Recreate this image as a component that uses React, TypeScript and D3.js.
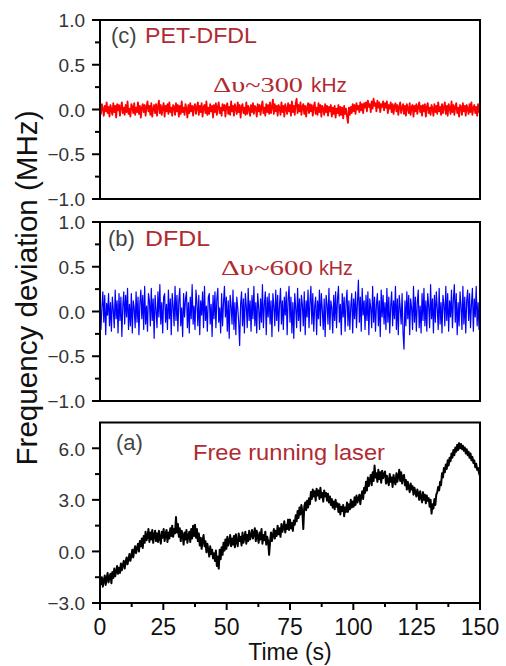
import React from 'react';
import * as d3 from 'd3';

// ---- data (sampled every 0.375 s from 0 to 150 s) ----
const timeStart = 0;
const timeEnd = 150;

const petDfdl = [
  0.02,-0.05,0.06,0.01,-0.07,0.04,-0.02,0.08,-0.04,0.03,-0.08,0.05,0.00,-0.06,0.07,-0.03,0.04,-0.09,0.06,-0.01,
  0.05,-0.07,0.03,0.08,-0.04,0.02,-0.06,0.05,-0.03,0.09,-0.05,0.01,-0.08,0.06,0.03,-0.04,0.07,-0.06,0.02,-0.03,
  0.08,-0.05,0.04,-0.09,0.02,0.06,-0.03,0.05,-0.07,0.03,0.09,-0.02,0.04,-0.06,0.07,-0.08,0.01,0.05,-0.04,0.06,
  -0.07,0.03,0.1,-0.04,0.05,-0.06,0.02,0.07,-0.08,0.04,-0.02,0.06,-0.05,0.08,-0.03,0.02,-0.07,0.05,0.03,-0.06,
  0.07,-0.02,0.05,-0.08,0.04,-0.05,0.09,-0.03,0.02,-0.06,0.06,0.01,-0.09,0.05,-0.04,0.07,-0.02,0.04,-0.07,0.03,
  0.06,-0.05,0.02,0.08,-0.06,0.04,-0.03,0.07,-0.08,0.03,0.05,-0.04,0.09,-0.06,0.02,-0.05,0.06,-0.02,0.04,-0.09,
  0.05,-0.03,0.07,-0.06,0.03,0.08,-0.04,0.02,-0.07,0.06,-0.01,0.05,-0.08,0.04,0.07,-0.05,0.03,-0.06,0.09,-0.02,
  0.04,-0.07,0.06,0.01,-0.05,0.08,-0.03,0.05,-0.09,0.03,0.06,-0.04,0.02,-0.06,0.08,-0.05,0.04,0.01,-0.07,0.05,
  -0.03,0.07,-0.05,0.04,0.02,-0.08,0.06,-0.02,0.05,-0.06,0.03,0.09,-0.04,0.02,-0.07,0.06,-0.03,0.05,-0.05,0.08,
  -0.04,0.03,0.11,-0.05,0.06,-0.02,0.04,-0.07,0.05,0.02,-0.06,0.08,-0.03,0.04,-0.08,0.06,0.01,-0.05,0.07,-0.02,
  0.05,-0.07,0.09,-0.03,0.04,-0.06,0.07,0.12,-0.04,0.05,-0.02,0.08,-0.06,0.03,0.06,-0.05,0.04,-0.08,0.02,0.07,
  -0.04,0.06,-0.02,0.05,-0.07,0.03,0.08,-0.05,0.02,-0.06,0.07,-0.03,0.05,-0.08,0.04,0.01,-0.06,0.06,-0.03,0.04,
  -0.07,0.03,-0.02,0.05,-0.08,0.02,-0.05,0.04,-0.09,0.01,-0.04,0.05,-0.07,0.03,-0.06,0.02,-0.1,0.04,-0.05,0.01,
  -0.08,-0.15,0.02,-0.06,0.03,-0.04,0.06,-0.02,0.05,-0.05,0.07,0.00,0.04,-0.03,0.08,-0.01,0.06,-0.04,0.07,0.02,
  0.08,-0.02,0.1,0.03,0.06,-0.03,0.09,0.01,0.12,0.04,0.07,-0.02,0.1,0.02,0.08,-0.03,0.06,0.03,0.09,-0.01,
  0.07,0.02,0.09,-0.04,0.05,0.01,0.08,-0.03,0.06,-0.05,0.04,0.07,-0.02,0.05,-0.06,0.03,0.08,-0.04,0.02,0.06,
  -0.05,0.04,-0.07,0.06,0.01,-0.04,0.07,-0.06,0.03,0.05,-0.08,0.04,-0.02,0.06,-0.05,0.03,0.08,-0.03,0.04,-0.07,
  0.05,-0.02,0.06,-0.08,0.03,0.07,-0.04,0.02,-0.06,0.05,0.01,-0.07,0.06,-0.03,0.04,-0.05,0.08,-0.02,0.03,-0.06,
  0.06,-0.04,0.03,0.08,-0.05,0.04,-0.07,0.06,0.02,-0.05,0.09,-0.03,0.05,-0.06,0.03,0.07,-0.04,0.02,-0.08,0.05,
  0.03,-0.06,0.07,-0.02,0.04,-0.07,0.05,0.01,-0.05,0.06,-0.03,0.08,-0.06,0.02,0.05,-0.04,0.03,-0.07,0.06,-0.03,
  0.02,
];

const dfdl = [
  0.14,-0.2,0.05,0.22,-0.12,0.18,-0.26,0.09,-0.04,0.2,-0.16,0.1,-0.22,0.16,0.02,-0.18,0.24,-0.08,0.12,-0.24,
  0.2,-0.1,0.16,-0.28,0.06,0.22,-0.14,0.18,-0.06,0.26,-0.2,0.08,-0.16,0.2,-0.24,0.12,0.04,-0.18,0.22,-0.12,
  0.16,-0.26,0.1,0.24,-0.08,0.18,-0.2,0.28,-0.14,0.06,-0.22,0.2,0.12,-0.16,0.26,-0.1,0.14,-0.3,0.18,0.02,
  -0.18,0.22,-0.06,0.3,-0.14,0.1,-0.24,0.16,0.2,-0.12,0.08,-0.2,0.24,-0.08,0.14,-0.26,0.2,0.06,-0.16,0.28,
  -0.1,0.18,-0.22,0.12,0.26,-0.16,0.04,-0.28,0.2,-0.06,0.14,0.22,-0.18,0.1,-0.24,0.16,-0.08,0.3,-0.14,0.06,
  -0.2,0.24,0.1,-0.16,0.18,-0.26,0.12,-0.04,0.22,-0.18,0.28,-0.1,0.06,-0.22,0.16,0.2,-0.14,0.08,-0.28,0.18,
  -0.08,0.22,-0.18,0.14,0.26,-0.12,0.04,-0.24,0.2,-0.16,0.1,0.28,-0.06,0.16,-0.22,0.12,-0.3,0.18,0.06,-0.14,
  0.24,-0.2,0.1,-0.26,0.16,0.04,-0.12,-0.38,0.08,0.22,-0.16,0.14,-0.24,0.2,0.06,-0.18,0.26,-0.1,0.12,-0.22,
  0.18,-0.08,0.28,-0.16,0.1,-0.24,0.2,0.04,-0.2,0.14,-0.12,0.3,-0.18,0.08,0.22,-0.26,0.16,-0.06,0.2,-0.14,
  0.12,-0.28,0.2,0.06,-0.16,0.24,-0.1,0.18,-0.22,0.08,0.26,-0.14,0.12,-0.2,0.16,-0.04,0.22,-0.26,0.14,0.28,
  -0.12,0.16,-0.24,0.1,-0.3,0.2,0.04,-0.18,0.26,-0.1,0.14,-0.22,0.18,0.08,-0.16,0.22,-0.26,0.12,-0.06,0.24,
  -0.18,0.1,0.28,-0.14,0.2,-0.22,0.06,0.16,-0.26,0.12,-0.08,0.24,-0.16,0.2,0.02,-0.2,0.14,-0.28,0.18,0.08,
  -0.14,0.26,-0.2,0.12,0.04,-0.24,0.18,-0.1,0.22,-0.18,0.14,0.28,-0.12,0.08,-0.26,0.2,-0.06,0.16,-0.22,0.1,
  0.24,-0.16,0.12,-0.2,0.06,0.2,-0.24,0.14,-0.08,0.22,-0.18,0.1,0.35,-0.12,0.16,-0.22,0.26,-0.04,0.12,-0.2,
  0.18,-0.1,0.22,-0.26,0.14,0.04,-0.18,0.28,-0.12,0.16,-0.22,0.08,0.2,-0.16,0.12,-0.28,0.24,-0.06,0.18,-0.14,
  0.1,-0.2,0.26,-0.12,0.16,-0.24,0.06,0.22,-0.16,0.12,-0.08,0.28,-0.2,0.14,-0.26,0.18,0.04,-0.14,0.2,-0.24,
  -0.42,0.12,-0.16,0.22,-0.08,0.18,-0.26,0.14,0.04,-0.2,0.28,-0.12,0.16,-0.22,0.1,0.24,-0.18,0.06,-0.24,0.2,
  -0.1,0.26,-0.16,0.12,-0.22,0.2,0.06,-0.18,0.3,-0.08,0.14,-0.24,0.18,-0.12,0.22,0.04,-0.2,0.26,-0.14,0.1,
  -0.24,0.18,0.08,-0.16,0.28,-0.1,0.2,-0.22,0.12,-0.06,0.24,-0.18,0.14,0.3,-0.12,0.2,-0.26,0.1,-0.16,0.22,
  0.06,-0.2,0.28,-0.14,0.16,-0.24,0.12,0.24,-0.1,0.2,-0.18,0.08,0.26,-0.22,0.14,-0.06,0.28,-0.16,0.1,-0.2,
  0.12,
];

const freeRunning = [
  -1.6,-1.9,-1.5,-2.05,-1.7,-1.4,-1.95,-1.6,-1.25,-1.8,-1.5,-1.3,-1.85,-1.2,-1.55,-1.0,-1.45,-1.15,-0.85,-1.3,
  -0.95,-1.25,-0.7,-1.1,-0.8,-0.55,-1.0,-0.6,-0.35,-0.75,-0.45,-0.15,-0.55,-0.25,0.1,-0.35,0.05,0.3,-0.1,0.2,
  0.45,0.0,0.6,0.3,0.75,0.2,0.9,0.5,1.15,0.65,0.85,1.3,0.55,1.1,0.7,1.25,0.5,0.95,1.2,0.6,
  1.05,0.55,1.2,0.75,0.45,1.15,0.8,1.3,0.6,1.0,1.25,0.55,1.1,0.75,1.35,0.9,1.5,0.85,1.3,1.05,
  2.0,1.1,1.6,0.85,1.35,0.6,1.2,0.95,0.4,1.1,0.7,1.25,0.5,0.9,1.15,0.55,1.3,0.75,1.5,0.9,
  1.55,0.8,1.3,0.6,1.05,0.35,0.8,0.15,0.65,0.95,0.3,0.6,-0.05,0.45,0.1,-0.3,0.3,-0.15,0.1,-0.4,
  -0.1,-0.55,0.05,-0.85,-0.3,-1.0,0.1,-0.45,0.25,-0.2,0.5,0.05,0.7,0.15,0.85,0.35,0.6,0.95,0.3,0.75,
  0.4,0.9,0.25,1.0,0.55,0.3,1.05,0.6,0.85,0.35,1.1,0.5,0.8,1.15,0.45,0.95,0.6,1.2,0.7,0.95,
  1.25,0.75,1.05,1.35,0.6,1.2,0.85,0.5,1.1,0.7,1.3,0.45,0.95,0.65,1.15,0.4,0.85,0.6,-0.2,0.55,
  1.1,0.6,0.95,1.3,0.75,1.2,0.9,1.5,1.0,1.35,0.85,1.6,1.15,1.4,1.75,1.1,1.55,1.3,1.85,1.25,
  1.85,1.35,1.65,1.2,1.8,1.55,2.1,1.75,2.35,1.95,2.55,2.15,2.7,2.3,1.3,2.6,2.85,2.4,2.95,2.55,
  3.1,2.75,3.45,3.05,3.6,3.2,3.5,2.95,3.65,3.25,3.55,3.05,3.7,3.15,3.4,2.9,3.55,3.2,3.4,2.95,
  3.35,2.85,3.2,2.7,3.05,2.55,2.9,2.45,3.0,2.6,2.8,2.3,2.75,2.15,2.6,2.35,2.7,2.05,2.55,2.3,
  2.85,2.3,2.75,2.45,3.0,2.55,2.9,2.6,3.15,2.7,3.25,2.85,3.05,3.3,2.75,3.2,3.5,3.05,3.7,3.4,
  4.05,3.55,4.3,3.8,4.15,4.45,3.85,4.6,4.1,5.0,4.3,4.55,4.05,4.75,4.2,4.6,4.0,4.7,4.25,4.5,
  4.65,3.95,4.4,4.1,3.85,4.5,4.05,4.3,3.75,4.45,4.1,3.9,4.55,4.05,4.35,4.75,4.1,4.6,3.95,4.4,
  4.45,3.85,4.15,3.6,4.05,3.75,3.45,3.95,3.6,3.8,3.3,3.7,3.45,3.2,3.6,3.35,3.0,3.5,3.15,2.85,
  3.45,3.0,3.3,2.8,3.25,2.95,3.1,2.6,3.0,2.2,2.75,2.5,3.05,2.7,3.3,3.45,3.75,3.55,4.05,3.85,
  4.55,4.3,4.85,4.6,5.05,4.8,5.3,5.0,5.45,5.25,5.7,5.45,5.9,5.6,6.05,5.8,6.2,5.9,6.3,6.0,
  6.25,5.95,6.15,5.85,6.05,5.7,5.95,5.6,5.8,5.45,5.7,5.3,5.5,5.15,5.3,4.9,5.1,4.75,4.85,4.55,
  4.4,
];

const xTicks = [0, 25, 50, 75, 100, 125, 150];
const xMinorTicks = [12.5, 37.5, 62.5, 87.5, 112.5, 137.5];
const smallYTicks = [-1, -0.5, 0, 0.5, 1];
const smallYMinor = [-0.75, -0.25, 0.25, 0.75];
const bigYTicks = [-3, 0, 3, 6];
const bigYMinor = [-1.5, 1.5, 4.5];

const LEFT = 100;
const RIGHT = 480;
const SANS = "'Liberation Sans', Arial, sans-serif";
const SERIF = "'Liberation Serif', 'Times New Roman', serif";
const ANN = '#b02a32';

const x = d3.scaleLinear().domain([timeStart, timeEnd]).range([LEFT, RIGHT]);

type PanelProps = {
  id: string;
  top: number;
  bottom: number;
  domain: [number, number];
  data: number[];
  color: string;
  width: number;
  ticks: number[];
  minor: number[];
  showX: boolean;
};

function Panel({ id, top, bottom, domain, data, color, width, ticks, minor, showX }: PanelProps) {
  const y = d3.scaleLinear().domain(domain).range([bottom, top]);
  const n = data.length;
  const line = d3
    .line<number>()
    .x((_, i) => x(timeStart + (i * (timeEnd - timeStart)) / (n - 1)))
    .y((d) => y(d));
  return (
    <g>
      <clipPath id={id}>
        <rect x={LEFT} y={top} width={RIGHT - LEFT} height={bottom - top} />
      </clipPath>
      <path d={line(data) || ''} fill="none" stroke={color} strokeWidth={width} strokeLinejoin="round" clipPath={`url(#${id})`} />
      <rect x={LEFT} y={top} width={RIGHT - LEFT} height={bottom - top} fill="none" stroke="#000" strokeWidth={2} />
      {ticks.map((t) => (
        <g key={'t' + t}>
          <line x1={LEFT - 8} x2={LEFT} y1={y(t)} y2={y(t)} stroke="#000" strokeWidth={2} />
          <text x={LEFT - 15} y={y(t)} dy="0.38em" textAnchor="end" fontFamily={SANS} fontSize={19} fill="#333">
            {d3.format('.1f')(t)}
          </text>
        </g>
      ))}
      {minor.map((t) => (
        <line key={'m' + t} x1={LEFT - 5} x2={LEFT} y1={y(t)} y2={y(t)} stroke="#000" strokeWidth={2} />
      ))}
      {showX && (
        <g>
          {xTicks.map((t) => (
            <g key={'x' + t}>
              <line x1={x(t)} x2={x(t)} y1={bottom} y2={bottom + 7} stroke="#000" strokeWidth={2} />
              <text x={x(t)} y={bottom + 32} textAnchor="middle" fontFamily={SANS} fontSize={23} fill="#111">
                {t}
              </text>
            </g>
          ))}
          {xMinorTicks.map((t) => (
            <line key={'xm' + t} x1={x(t)} x2={x(t)} y1={bottom} y2={bottom + 4} stroke="#000" strokeWidth={2} />
          ))}
        </g>
      )}
    </g>
  );
}

export default function App() {
  return (
    <svg
      width={506}
      height={666}
      style={{ position: 'absolute', left: 0, top: 0, background: '#fff' }}
    >
      <rect x={0} y={0} width={506} height={666} fill="#fff" />
      <Panel id="clipC" top={20} bottom={199} domain={[-1, 1]} data={petDfdl} color="#ff0000" width={1.8}
        ticks={smallYTicks} minor={smallYMinor} showX={false} />
      <Panel id="clipB" top={222} bottom={401} domain={[-1, 1]} data={dfdl} color="#0000ff" width={1.2}
        ticks={smallYTicks} minor={smallYMinor} showX={false} />
      <Panel id="clipA" top={422.5} bottom={603} domain={[-3, 7.5]} data={freeRunning} color="#000" width={2}
        ticks={bigYTicks} minor={bigYMinor} showX={true} />

      {/* annotations */}
      <text x={111} y={43} fontFamily={SANS} fontSize={22} fill="#444">(c)</text>
      <text x={145} y={43} fontFamily={SANS} fontSize={22} fill={ANN} textLength={112} lengthAdjust="spacingAndGlyphs">PET-DFDL</text>
      <text x={213} y={92} fontFamily={SERIF} fontSize={22} fill={ANN} textLength={90} lengthAdjust="spacingAndGlyphs">Δυ~300</text>
      <text x={311} y={92} fontFamily={SANS} fontSize={21} fill={ANN} textLength={36} lengthAdjust="spacingAndGlyphs">kHz</text>

      <text x={108} y={246} fontFamily={SANS} fontSize={22} fill="#444">(b)</text>
      <text x={145} y={246} fontFamily={SANS} fontSize={22} fill={ANN} textLength={65} lengthAdjust="spacingAndGlyphs">DFDL</text>
      <text x={221} y={275} fontFamily={SERIF} fontSize={22} fill={ANN} textLength={92} lengthAdjust="spacingAndGlyphs">Δυ~600</text>
      <text x={319} y={275} fontFamily={SANS} fontSize={21} fill={ANN} textLength={34} lengthAdjust="spacingAndGlyphs">kHz</text>

      <text x={116} y={450} fontFamily={SANS} fontSize={22} fill="#444">(a)</text>
      <text x={193} y={460} fontFamily={SANS} fontSize={22} fill={ANN} textLength={192} lengthAdjust="spacingAndGlyphs">Free running laser</text>

      {/* axis titles */}
      <text x={290} y={660} textAnchor="middle" fontFamily={SANS} fontSize={23} fill="#111">Time (s)</text>
      <text
        transform="translate(37,288) rotate(-90)"
        textAnchor="middle"
        fontFamily={SANS}
        fontSize={30}
        fill="#111"
        textLength={355}
        lengthAdjust="spacingAndGlyphs"
      >
        Frequency deviation (MHz)
      </text>
    </svg>
  );
}
